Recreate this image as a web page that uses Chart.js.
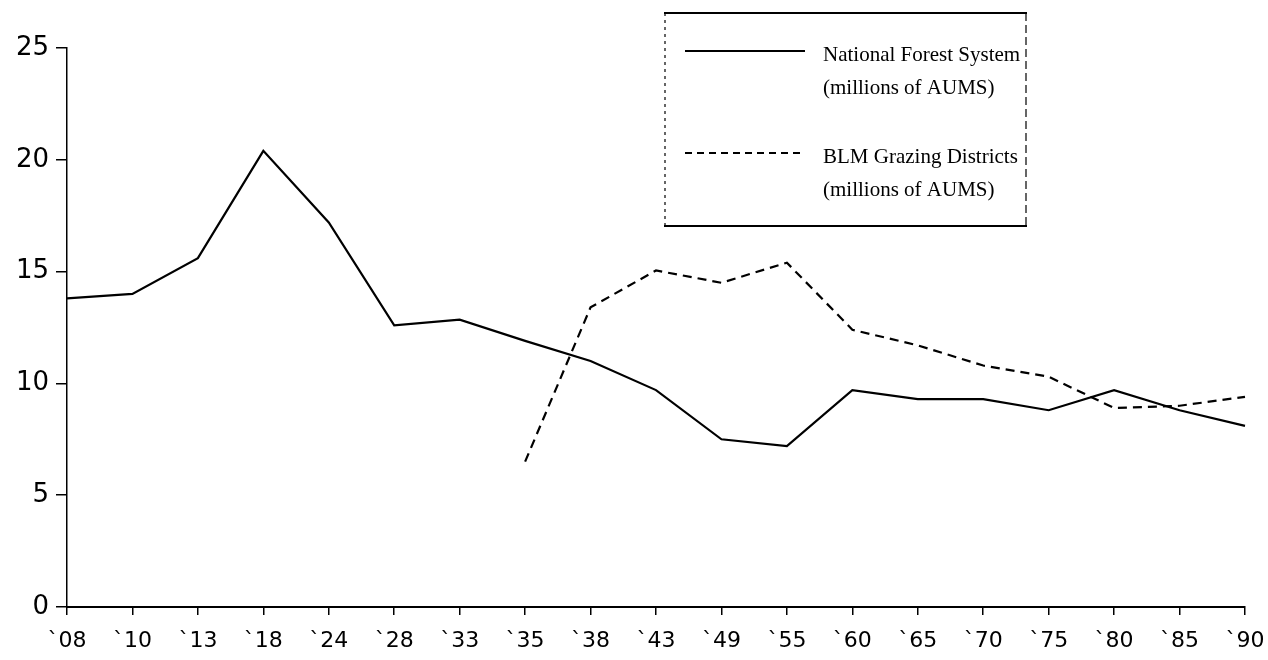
<!DOCTYPE html>
<html>
<head>
<meta charset="utf-8">
<script src="https://cdn.jsdelivr.net/npm/chart.js@4.4.0/dist/chart.umd.min.js"></script>
<style>
  body { margin: 0; background: #fff; }
  #wrap { width: 1268px; height: 660px; }
</style>
</head>
<body>
<div id="wrap"><canvas id="lineChart" width="1268" height="660"></canvas></div>
<script>
// years (x axis)
var years = ['`08', '`10', '`13', '`18', '`24', '`28', '`33', '`35', '`38', '`43',
  '`49', '`55', '`60', '`65', '`70', '`75', '`80', '`85', '`90'];

// National Forest System, millions of AUMS
var forest = [13.8, 14.0, 15.6, 20.4, 17.2, 12.6, 12.85, 11.9, 11.0, 9.7,
  7.5, 7.2, 9.7, 9.3, 9.3, 8.8, 9.7, 8.8, 8.1];

// BLM Grazing Districts, millions of AUMS (starts in '35)
var blm = [null, null, null, null, null, null, null, 6.5, 13.4, 15.05,
  14.5, 15.4, 12.4, 11.7, 10.8, 10.3, 8.9, 9.0, 9.4];

var yTicks = [0, 5, 10, 15, 20, 25];

// legend drawn as a box like the original
var legendBox = {
  id: 'legendBox',
  afterDraw: function(chart) {
    var c = chart.ctx;
    c.save();
    c.strokeStyle = '#000';
    c.lineWidth = 2;
    c.beginPath(); c.moveTo(664, 13); c.lineTo(1027, 13); c.stroke();
    c.beginPath(); c.moveTo(664, 226); c.lineTo(1027, 226); c.stroke();
    c.lineWidth = 1.2;
    c.setLineDash([3, 4]);
    c.beginPath(); c.moveTo(665, 13); c.lineTo(665, 226); c.stroke();
    c.setLineDash([8, 4]);
    c.beginPath(); c.moveTo(1026, 13); c.lineTo(1026, 226); c.stroke();

    c.lineWidth = 2;
    c.setLineDash([]);
    c.beginPath(); c.moveTo(685, 51); c.lineTo(805, 51); c.stroke();
    c.setLineDash([7, 5]);
    c.beginPath(); c.moveTo(685, 153); c.lineTo(805, 153); c.stroke();

    c.fillStyle = '#000';
    c.font = '21px "Liberation Serif", "Times New Roman", serif';
    c.textBaseline = 'middle';
    c.fillText('National Forest System', 823, 55);
    c.fillText('(millions of AUMS)', 823, 88);
    c.fillText('BLM Grazing Districts', 823, 157);
    c.fillText('(millions of AUMS)', 823, 190);
    c.restore();
  }
};

var ctxLine = document.getElementById('lineChart').getContext('2d');
var lineChart = new Chart(ctxLine, {
  type: 'line',
  data: {
    labels: years,
    datasets: [{
      label: 'National Forest System (millions of AUMS)',
      data: forest,
      borderColor: '#000',
      borderWidth: 2.2,
      pointRadius: 0,
      tension: 0
    }, {
      label: 'BLM Grazing Districts (millions of AUMS)',
      data: blm,
      borderColor: '#000',
      borderWidth: 2.2,
      borderDash: [9, 6],
      pointRadius: 0,
      tension: 0,
      spanGaps: false
    }]
  },
  options: {
    responsive: false,
    animation: false,
    layout: { padding: { top: 48, right: 23, left: 0, bottom: 0 } },
    plugins: {
      legend: { display: false },
      tooltip: { enabled: false }
    },
    scales: {
      x: {
        offset: false,
        grid: { display: true, drawOnChartArea: false, color: '#000', tickLength: 8, lineWidth: 1.5 },
        border: { color: '#000', width: 2 },
        ticks: {
          color: '#000',
          font: { family: '"DejaVu Sans", Arial, sans-serif', size: 22 },
          padding: 13,
          maxRotation: 0,
          autoSkip: false
        },
        afterFit: function(scale) {
          scale.height = 53;
          scale.paddingLeft = 0;
          scale.paddingRight = 0;
        }
      },
      y: {
        min: 0,
        max: 25,
        afterBuildTicks: function(scale) {
          scale.ticks = yTicks.map(function(v) { return { value: v }; });
        },
        grid: { display: true, drawOnChartArea: false, color: '#000', tickLength: 11, lineWidth: 1.5 },
        border: { color: '#000', width: 1.5, dash: [10, 3, 2, 3] },
        ticks: {
          color: '#000',
          font: { family: '"DejaVu Sans", Arial, sans-serif', size: 26 },
          padding: 7
        },
        afterFit: function(scale) { scale.width = 67; }
      }
    }
  },
  plugins: [legendBox]
});
</script>
</body>
</html>
